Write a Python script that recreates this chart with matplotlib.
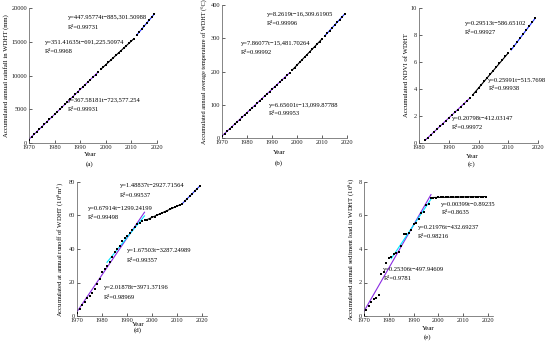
import numpy as np
import matplotlib
matplotlib.use("Agg")
import matplotlib.pyplot as plt

# ---- data ----
years = list(range(1970, 2020))
years_ndvi = list(range(1982, 2020))

rainfall = [470, 930, 1300, 1680, 2050, 2400, 2790, 3150, 3540, 3890,
            4250, 4610, 4990, 5360, 5720, 6100, 6450, 6830, 7190, 7560,
            7930, 8300, 8660, 9040, 9390, 9770, 10130, 10490,
            10900, 11250, 11610, 11950, 12310, 12650, 13000, 13360, 13700,
            14060, 14410, 14760, 15110, 15470,
            15950, 16420, 16880, 17320, 17770, 18230, 18680, 19120]

temperature = [6.5, 13.4, 20.5, 27.4, 34.5, 41.4, 48.5, 55.3, 62.4, 69.3,
               76.4, 83.2, 90.3, 97.2, 104.3, 111.3, 118.2, 125.4, 132.5, 139.6,
               146.7, 153.9, 160.9, 167.8, 175.0, 181.9, 188.9, 195.8,
               203.6, 211.5, 219.3, 227.2, 235.1, 243.0, 250.8, 258.7, 266.5,
               274.4, 282.2, 290.1, 298.0,
               306.2, 314.5, 322.8, 331.0, 339.3, 347.5, 355.8, 364.0, 372.3]

ndvi = [0.19, 0.40, 0.61, 0.81, 1.02, 1.23, 1.44, 1.64, 1.85, 2.06,
        2.27, 2.48, 2.68, 2.89, 3.10, 3.31,
        3.55, 3.81, 4.07, 4.33, 4.59, 4.85, 5.11, 5.37, 5.63, 5.89,
        6.15, 6.41, 6.67, 6.93,
        7.17, 7.47, 7.76, 8.06, 8.35, 8.65, 8.94, 9.23]

runoff = [2.0, 4.0, 6.6, 8.6, 10.6, 12.0, 13.6, 16.0, 19.0, 22.0,
          26.0, 28.0, 30.0, 32.0, 35.0, 38.5, 40.0, 42.0, 44.5, 46.5,
          48.0, 49.5, 51.5, 53.0, 55.0, 55.5, 56.5, 57.2,
          57.6, 58.2, 58.9, 59.4, 60.2, 60.9, 61.5, 62.2, 62.9, 63.6,
          64.3, 64.9, 65.6, 66.3,
          66.9, 68.4, 69.9, 71.5, 72.9, 74.4, 75.9, 77.4]

sediment = [0.04, 0.34, 0.58, 0.84, 1.03, 1.07, 1.27, 2.49, 2.63, 3.18,
            3.48, 3.52, 3.68, 3.78, 3.84, 4.16, 4.92, 4.92, 4.96, 5.15,
            5.47, 5.57, 5.77, 6.15, 6.19, 6.65, 6.67, 7.06,
            7.07, 7.07, 7.08, 7.08, 7.09, 7.09, 7.09, 7.10, 7.10, 7.10,
            7.10, 7.11, 7.11, 7.11, 7.11, 7.12, 7.12, 7.12, 7.12, 7.12,
            7.13, 7.13]

# segment year ranges and colours of the fitted lines
seg_a = [(1970, 1997, '#8a2be2'), (1998, 2011, 'black'), (2012, 2019, '#1f2fff')]
seg_b = [(1970, 1997, '#8a2be2'), (1998, 2010, 'black'), (2011, 2019, '#1f2fff')]
seg_c = [(1982, 1997, '#8a2be2'), (1998, 2010, 'black'), (2011, 2019, '#1f2fff')]
seg_d = [(1970, 1997, '#8a2be2'), (1982, 1997, '#00e5ff'), (1998, 2011, 'black'), (2012, 2019, '#1f2fff')]
seg_e = [(1970, 1997, '#8a2be2'), (1981, 1997, '#00e5ff'), (1998, 2019, 'black')]

eq_a = ['y=447.95774t\u2212885,301.50988', 'y=351.41635t\u2212691,225.50974', 'y=367.58181t\u2212723,577.254']
r2_a = ['R\u00b2=0.99731', 'R\u00b2=0.9968', 'R\u00b2=0.99931']
eq_b = ['y=8.2619t\u221216,309.61905', 'y=7.86077t\u221215,481.70264', 'y=6.65601t\u221213,099.87788']
r2_b = ['R\u00b2=0.99996', 'R\u00b2=0.99992', 'R\u00b2=0.99953']
eq_c = ['y=0.29513t\u2212586.65102', 'y=0.25991t\u2212515.7698', 'y=0.20798t\u2212412.03147']
r2_c = ['R\u00b2=0.99927', 'R\u00b2=0.99938', 'R\u00b2=0.99972']
eq_d = ['y=1.48837t\u22122927.71564', 'y=0.67914t\u22121299.24199', 'y=1.67503t\u22123287.24989', 'y=2.01878t\u22123971.37196']
r2_d = ['R\u00b2=0.99537', 'R\u00b2=0.99498', 'R\u00b2=0.99357', 'R\u00b2=0.98969']
eq_e = ['y=0.00399t\u22120.89235', 'y=0.21976t\u2212432.69237', 'y=0.25306t\u2212497.94609']
r2_e = ['R\u00b2=0.8635', 'R\u00b2=0.98216', 'R\u00b2=0.9781']

plt.rcParams['font.family'] = ['Liberation Serif', 'DejaVu Serif']
plt.rcParams['mathtext.fontset'] = 'stix'

W, H = 550, 344
fig = plt.figure(figsize=(W / 100, H / 100), dpi=100)

FS_TXT = 4.7


def make_axes(l, r, t, b):
    return fig.add_axes([l / W, 1 - b / H, (r - l) / W, (b - t) / H])


def panel(ax, x, y, segs, xlim, ylim, yticks, ylabel, eqs, r2s, eq_pos, ylab_fs=4.9):
    x = np.array(x)
    y = np.array(y)
    for y0, y1, col in segs:
        m = (x >= y0) & (x <= y1)
        k, c = np.polyfit(x[m], y[m], 1)
        ax.plot(x[m], k * x[m] + c, color=col, lw=0.8, zorder=2)
    ax.plot(x, y, 's', color='black', ms=1.6, mew=0, zorder=3)
    ax.set_xlim(*xlim)
    ax.set_ylim(*ylim)
    ax.set_xticks(range(xlim[0], 2021, 10))
    ax.set_yticks(yticks)
    ax.spines['top'].set_visible(False)
    ax.spines['right'].set_visible(False)
    for s in ('left', 'bottom'):
        ax.spines[s].set_linewidth(0.5)
        ax.spines[s].set_color('#555555')
    ax.tick_params(direction='in', length=2, width=0.5, labelsize=4.6, pad=1.5, colors='#222222')
    ax.set_ylabel(ylabel, fontsize=ylab_fs, labelpad=1.5)
    for eq, r2, (tx, ty1, ty2) in zip(eqs, r2s, eq_pos):
        ax.text(tx, ty1, eq, fontsize=FS_TXT, va='center', ha='left')
        ax.text(tx, ty2, r2, fontsize=FS_TXT, va='center', ha='left')


def caption(xp, yp_year, yp_cap, tag):
    fig.text(xp / W, 1 - yp_year / H, 'Year', fontsize=5.0, ha='center', va='center')
    fig.text(xp / W, 1 - yp_cap / H, tag, fontsize=5.0, ha='center', va='center')


# (a)
ax = make_axes(29, 157, 8, 143)
panel(ax, years, rainfall, seg_a, (1970, 2020), (0, 20000), range(0, 20001, 5000),
      'Accumulated annual rainfall in WDHT (mm)', eq_a, r2_a,
      [(1985.2, 18620, 17180), (1976.3, 14860, 13530), (1985.2, 6270, 4990)])
caption(90, 155, 164, '(a)')

# (b)
ax = make_axes(222, 347, 5, 138)
panel(ax, years, temperature, seg_b, (1970, 2020), (0, 400), range(0, 401, 100),
      'Accumulated annual average temperature of WDHT (\u00b0C)', eq_b, r2_b,
      [(1988.1, 371, 343), (1977.5, 283, 257), (1988.9, 99, 74)], ylab_fs=4.5)
caption(279, 153, 163, '(b)')

# (c)
ax = make_axes(419, 538, 8, 143)
panel(ax, years_ndvi, ndvi, seg_c, (1980, 2020), (0, 10), range(0, 11, 2),
      'Accumulated NDVI of WDHT', eq_c, r2_c,
      [(1995.5, 8.88, 8.21), (2003.3, 4.66, 4.0), (1991.0, 1.79, 1.17)])
caption(472, 156.5, 164, '(c)')

# (d)
ax = make_axes(77, 207, 182, 316)
panel(ax, years, runoff, seg_d, (1970, 2022), (0, 80), range(0, 81, 20),
      'Accumulated at annual runoff of WDHT (10$^8$m$^3$)', eq_d, r2_d,
      [(1987.3, 78, 72.2), (1974.3, 64.4, 58.8), (1990.0, 38.9, 33.1), (1980.7, 17.0, 11.2)])
ax.set_xticks(range(1970, 2021, 10))
caption(138, 325, 330, '(d)')

# (e)
ax = make_axes(364, 493, 182, 316)
panel(ax, years, sediment, seg_e, (1970, 2022), (0, 8), range(0, 9, 2),
      'Accumulated annual sediment load in WDHT (10$^8$t)', eq_e, r2_e,
      [(2001.2, 6.67, 6.15), (1991.8, 5.27, 4.76), (1977.8, 2.77, 2.23)])
caption(428, 329, 337, '(e)')

fig.savefig('out.png', dpi=100)
